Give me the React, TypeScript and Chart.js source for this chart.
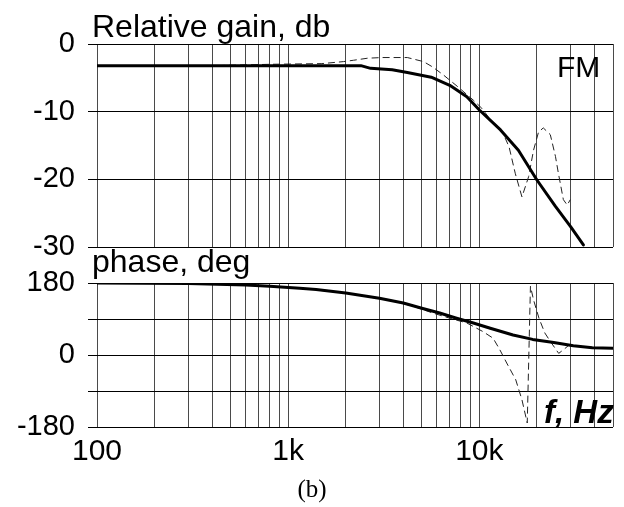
import React, { useEffect, useRef } from 'react';
import { Chart, registerables } from 'chart.js';

Chart.register(...registerables);

// ---------- axis ticks ----------
const xGridTicks = [100, 200, 300, 400, 500, 600, 700, 800, 900, 1000, 2000, 3000, 4000, 5000, 6000, 7000, 8000, 9000, 10000, 20000, 30000, 40000, 50000];
const xTickLabels: Record<number, string> = { 100: '100', 1000: '1k', 10000: '10k' };
const gainTicks = [-30, -20, -10, 0];
const phaseTicks = [-180, -90, 0, 90, 180];
const phaseLabelled = [-180, 0, 180];

// ---------- gain, solid (thick) ----------
const gainSolidFreq = [100, 1000, 2400, 2700, 3500, 4200, 5600, 7000, 8600, 10000, 12900, 16000, 20000, 25000, 30000, 35000];
const gainSolidDb = [-3.2, -3.2, -3.2, -3.6, -3.8, -4.2, -4.9, -6.1, -7.8, -9.75, -12.7, -15.7, -20.1, -24, -27, -29.7];

// ---------- gain, dashed (thin) ----------
const gainDashFreq = [100, 300, 800, 1500, 1950, 2200, 2600, 3100, 4200, 5100, 5700, 6500, 7700, 9300, 10300, 11800, 13300, 14300, 15400, 16700, 18100, 19200, 20400, 21600, 23500, 25000, 25900, 27500, 28800, 29900];
const gainDashDb = [-3.3, -3.3, -3.0, -2.9, -2.6, -2.4, -2.1, -2.0, -2.0, -2.6, -3.4, -4.6, -6.3, -8.3, -9.5, -11.7, -13.2, -15.2, -19.1, -22.6, -19.6, -15.7, -13.0, -12.4, -13.4, -16.6, -19.1, -23.0, -23.8, -23.0];

// ---------- phase, solid (thick) ----------
const phaseSolidFreq = [100, 300, 600, 800, 1150, 1400, 2000, 3000, 4000, 5000, 6200, 7600, 9300, 11400, 15000, 19000, 24500, 31000, 39000, 50000];
const phaseSolidDeg = [180, 179, 175, 172, 167, 164, 155, 142, 130, 117, 105, 92, 80, 67, 50, 39, 31, 23, 18, 17];

// ---------- phase, dashed (thin) ----------
const phaseDashFreq = [100, 300, 600, 800, 1150, 2000, 3000, 3500, 4500, 5700, 7000, 8600, 10400, 11800, 12800, 13900, 15500, 16700, 17800, 18500, 19200, 20500, 22000, 23500, 26000, 27500, 30000];
const phaseDashDeg = [180, 179, 175, 172, 167, 155, 141, 136, 122, 105, 92, 80, 59, 42, 13, -20, -62, -112, -170, 172, 138, 92, 55, 34, 4, 13, 28];

const FONT = "'Liberation Sans', Arial, Helvetica, sans-serif";

const pts = (xs: number[], ys: number[]) => xs.map((x, i) => ({ x, y: ys[i] }));

function solidDs(data: { x: number; y: number }[]) {
  return {
    data,
    borderColor: '#000',
    borderWidth: 3,
    pointRadius: 0,
    tension: 0,
    fill: false,
    borderJoinStyle: 'round' as const,
    borderCapStyle: 'round' as const,
  };
}
function dashDs(data: { x: number; y: number }[]) {
  return {
    data,
    borderColor: '#222',
    borderWidth: 1,
    borderDash: [7, 4],
    pointRadius: 0,
    tension: 0,
    fill: false,
  };
}

function xScale(showLabels: boolean) {
  return {
    type: 'logarithmic',
    min: 100,
    max: 50000,
    afterBuildTicks: (s: any) => {
      s.ticks = xGridTicks.map((v) => ({ value: v }));
    },
    afterFit: (s: any) => {
      s.height = showLabels ? 50 : 0;
    },
    grid: { color: '#4a4a4a', lineWidth: 1, drawTicks: false },
    border: { display: false },
    ticks: {
      display: showLabels,
      autoSkip: false,
      maxRotation: 0,
      minRotation: 0,
      padding: 7,
      color: '#000',
      font: { family: FONT, size: 30 },
      callback: (v: any) => xTickLabels[Number(v)] ?? '',
    },
  };
}

function yScale(min: number, max: number, ticks: number[], labelled: number[]) {
  return {
    type: 'linear',
    min,
    max,
    afterBuildTicks: (s: any) => {
      s.ticks = ticks.map((v) => ({ value: v }));
    },
    afterFit: (s: any) => {
      s.width = 97;
    },
    grid: { color: '#000', lineWidth: 1, drawTicks: true, tickLength: 9 },
    border: { display: false },
    ticks: {
      autoSkip: false,
      padding: 13,
      color: '#000',
      font: { family: FONT, size: 29 },
      callback: (v: any) => (labelled.includes(Number(v)) ? String(v) : ''),
    },
  };
}

const baseOptions = {
  responsive: false,
  maintainAspectRatio: false,
  animation: false,
  events: [],
  plugins: { legend: { display: false }, tooltip: { enabled: false }, title: { display: false } },
};

export default function App() {
  const topRef = useRef<HTMLCanvasElement>(null);
  const botRef = useRef<HTMLCanvasElement>(null);

  useEffect(() => {
    const c1 = new Chart(topRef.current as HTMLCanvasElement, {
      type: 'line',
      data: {
        datasets: [solidDs(pts(gainSolidFreq, gainSolidDb)), dashDs(pts(gainDashFreq, gainDashDb))] as any,
      },
      options: {
        ...baseOptions,
        layout: { padding: { top: 44, left: 0, right: 11, bottom: 260 } },
        scales: { x: xScale(false), y: yScale(-30, 0, gainTicks, gainTicks) },
      } as any,
    });
    const c2 = new Chart(botRef.current as HTMLCanvasElement, {
      type: 'line',
      data: {
        datasets: [solidDs(pts(phaseSolidFreq, phaseSolidDeg)), dashDs(pts(phaseDashFreq, phaseDashDeg))] as any,
      },
      options: {
        ...baseOptions,
        layout: { padding: { top: 283, left: 0, right: 11, bottom: 30 } },
        scales: { x: xScale(true), y: yScale(-180, 180, phaseTicks, phaseLabelled) },
      } as any,
    });
    return () => {
      c1.destroy();
      c2.destroy();
    };
  }, []);

  const canvasStyle: React.CSSProperties = { position: 'absolute', left: 0, top: 0, width: 624, height: 507 };
  const txt = (extra: React.CSSProperties): React.CSSProperties => ({
    position: 'absolute',
    whiteSpace: 'nowrap',
    lineHeight: 1,
    color: '#000',
    fontFamily: FONT,
    ...extra,
  });

  return (
    <div style={{ position: 'absolute', left: 0, top: 0, width: 624, height: 507, background: '#fff', overflow: 'hidden' }}>
      <canvas ref={botRef} width={624} height={507} style={canvasStyle} />
      <canvas ref={topRef} width={624} height={507} style={canvasStyle} />
      <div style={txt({ left: 92, top: 10, fontSize: 32 })}>Relative gain, db</div>
      <div style={txt({ left: 92, top: 245, fontSize: 32 })}>phase, deg</div>
      <div style={txt({ left: 557, top: 52, fontSize: 30 })}>FM</div>
      <div style={txt({ left: 544, top: 395, fontSize: 33, fontWeight: 'bold', fontStyle: 'italic' })}>f, Hz</div>
      <div style={txt({ left: 0, width: 624, textAlign: 'center', top: 476, fontSize: 25, fontFamily: "'Liberation Serif', 'Times New Roman', serif" })}>(b)</div>
    </div>
  );
}
